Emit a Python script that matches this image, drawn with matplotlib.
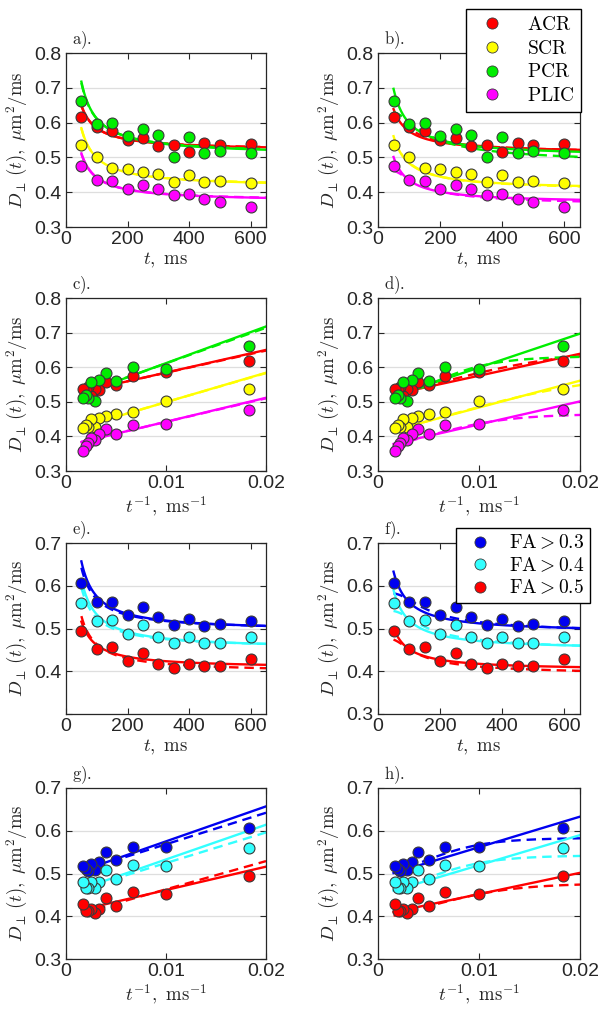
import matplotlib
matplotlib.use("Agg")
import matplotlib.pyplot as plt
from matplotlib.lines import Line2D
import numpy as np

plt.rcParams["font.family"] = ["Liberation Sans", "DejaVu Sans"]
plt.rcParams["mathtext.fontset"] = "cm"

# diffusion times and inverse times
t_ms = [50, 100, 150, 200, 250, 300, 350, 400, 450, 500, 600]
inv_t = [0.0183, 0.01, 0.00667, 0.005, 0.004, 0.00333, 0.00286, 0.0025, 0.00222, 0.002, 0.00167]

# regions (a-d)
region_names = ["ACR", "SCR", "PCR", "PLIC"]
region_colors = ["#ff0000", "#ffff00", "#00ee00", "#ff00ff"]
acr = [0.617, 0.586, 0.576, 0.550, 0.557, 0.534, 0.537, 0.516, 0.542, 0.537, 0.538]
scr = [0.537, 0.502, 0.470, 0.466, 0.459, 0.452, 0.428, 0.449, 0.428, 0.432, 0.425]
pcr = [0.662, 0.596, 0.600, 0.561, 0.582, 0.564, 0.502, 0.558, 0.512, 0.519, 0.512]
plic = [0.476, 0.435, 0.433, 0.408, 0.422, 0.408, 0.391, 0.394, 0.380, 0.372, 0.358]

# FA thresholds (e-h)
fa_names = [r"$\mathrm{FA} > 0.3$", r"$\mathrm{FA} > 0.4$", r"$\mathrm{FA} > 0.5$"]
fa_colors = ["#0000f0", "#33ffff", "#ff0000"]
fa03 = [0.606, 0.562, 0.563, 0.531, 0.550, 0.527, 0.509, 0.522, 0.507, 0.510, 0.517]
fa04 = [0.560, 0.517, 0.520, 0.488, 0.508, 0.481, 0.467, 0.481, 0.467, 0.466, 0.480]
fa05 = [0.495, 0.451, 0.456, 0.423, 0.443, 0.418, 0.408, 0.418, 0.412, 0.412, 0.429]

# fit parameters, linear model D = Dinf + A/t  (Dinf, A)
reg_left_solid = [(0.519, 6.55), (0.414, 8.5), (0.5057, 10.6), (0.373, 6.93)]
reg_left_dash = [(0.520, 6.4), (0.415, 8.4), (0.508, 10.3), (0.374, 6.8)]
reg_right_solid = [(0.512, 6.34), (0.406, 7.75), (0.501, 9.8), (0.368, 6.66)]
fa_left_solid = [(0.4934, 8.18), (0.4515, 8.13), (0.4066, 5.47)]
fa_left_dash = [(0.4947, 7.37), (0.453, 7.15), (0.397, 6.6)]
fa_right_solid = [(0.490, 7.15), (0.449, 7.04), (0.402, 4.98)]
# saturating model (Dinf, A, Dmax)
reg_right_dash = [(0.510, 7.5, 0.65), (0.404, 8.2, 0.585), (0.48, 14.0, 0.633), (0.361, 8.2, 0.466)]
fa_right_dash = [(0.486, 9.5, 0.584), (0.446, 9.0, 0.543), (0.391, 6.5, 0.478)]

region_data = [acr, scr, pcr, plic]
fa_data = [fa03, fa04, fa05]

txt = "#262626"


def lin(x, p):
    return p[0] + p[1] * x


def sat(x, p):
    xs = (p[2] - p[0]) / p[1]
    return p[0] + p[1] * x / (1 + (x / xs) ** 4) ** 0.25


def rect(l, t, r, b):
    return [l / 606, 1 - b / 1014, (r - l) / 606, (b - t) / 1014]


fig = plt.figure(figsize=(6.06, 10.14), dpi=100)

cols = [(66, 266), (378, 580)]
rows = [(53, 227), (298, 471), (543, 714), (788, 959)]
tags = ["a", "b", "c", "d", "e", "f", "g", "h"]

axes = []
for i, (top, bot) in enumerate(rows):
    for j, (l, r) in enumerate(cols):
        axes.append(fig.add_axes(rect(l, top, r, bot)))

t_fine = np.linspace(50, 650, 300)
x_fine = np.linspace(1 / 650, 0.02, 300)

for k, ax in enumerate(axes):
    row, col = k // 2, k % 2
    time_axis = row in (0, 2)
    if row < 2:
        data, colors, solid = region_data, region_colors, [reg_left_solid, reg_right_solid][col]
        dashp = [reg_left_dash, reg_right_dash][col]
    else:
        data, colors, solid = fa_data, fa_colors, [fa_left_solid, fa_right_solid][col]
        dashp = [fa_left_dash, fa_right_dash][col]
    dfun = lin if col == 0 else sat
    xs = t_ms if time_axis else inv_t
    for d, c, ps, pd in zip(data, colors, solid, dashp):
        if time_axis:
            ax.plot(t_fine, lin(1 / t_fine, ps), color=c, lw=1.7, zorder=2)
            ax.plot(t_fine, dfun(1 / t_fine, pd), color=c, lw=1.7, ls=(0, (4, 2.5)), zorder=2)
        else:
            ax.plot(x_fine, lin(x_fine, ps), color=c, lw=1.7, zorder=2)
            ax.plot(x_fine, dfun(x_fine, pd), color=c, lw=1.7, ls=(0, (4, 2.5)), zorder=2)
        ax.scatter(xs, d, s=62, color=c, edgecolors="#3a3a3a", linewidths=0.8, zorder=3)

    if time_axis:
        ax.set_xlim(0, 650)
        ax.set_xticks([0, 200, 400, 600])
        ax.set_xticklabels(["0", "200", "400", "600"])
        ax.set_xlabel(r"$t,\ \mathrm{ms}$", fontsize=13.5, color=txt, labelpad=2)
    else:
        ax.set_xlim(0, 0.02)
        ax.set_xticks([0, 0.01, 0.02])
        ax.set_xticklabels(["0", "0.01", "0.02"])
        ax.set_xlabel(r"$t^{-1},\ \mathrm{ms}^{-1}$", fontsize=13.5, color=txt, labelpad=2)

    if row < 2:
        ax.set_ylim(0.3, 0.8)
        ax.set_yticks([0.3, 0.4, 0.5, 0.6, 0.7, 0.8])
        ax.set_yticklabels(["0.3", "0.4", "0.5", "0.6", "0.7", "0.8"])
    else:
        ax.set_ylim(0.3, 0.7)
        ax.set_yticks([0.3, 0.4, 0.5, 0.6, 0.7])
        labs = ["0.3", "0.4", "0.5", "0.6", "0.7"]
        if k == 4:
            labs[0] = ""
        ax.set_yticklabels(labs)
    ax.set_ylabel(r"$D_{\perp}\,(t),\ \mu\mathrm{m}^2/\mathrm{ms}$", fontsize=13.5, color=txt, labelpad=3)

    ax.yaxis.grid(True, color="#dedede", lw=0.9)
    ax.set_axisbelow(True)
    ax.tick_params(direction="in", top=True, right=True, length=4, width=0.8,
                   color=txt, labelcolor=txt, labelsize=14, pad=3)
    for s in ax.spines.values():
        s.set_color(txt)
        s.set_linewidth(0.9)
    ax.text(0.03, 1.012, r"$\mathrm{" + tags[k] + ").}$", transform=ax.transAxes,
            fontsize=12, color=txt, va="bottom", ha="left")

# legends
reg_handles = [Line2D([], [], ls="none", marker="o", markersize=8, color=c,
                      markeredgecolor="#3a3a3a", markeredgewidth=0.6) for c in region_colors]
leg = axes[1].legend(reg_handles, [r"$\mathrm{" + n + "}$" for n in region_names],
                     loc="upper right", bbox_to_anchor=(581 / 606, 1 - 9 / 1014),
                     bbox_transform=fig.transFigure, fontsize=14, frameon=True,
                     fancybox=False, edgecolor="black", framealpha=1, borderpad=0.35,
                     labelspacing=0.3, handlelength=2.0, handletextpad=0.8, borderaxespad=0)
leg.get_frame().set_linewidth(1.0)

fa_handles = [Line2D([], [], ls="none", marker="o", markersize=8, color=c,
                     markeredgecolor="#3a3a3a", markeredgewidth=0.6) for c in fa_colors]
leg2 = axes[5].legend(fa_handles, fa_names,
                      loc="upper right", bbox_to_anchor=(590 / 606, 1 - 528 / 1014),
                      bbox_transform=fig.transFigure, fontsize=14, frameon=True,
                      fancybox=False, edgecolor="black", framealpha=1, borderpad=0.3,
                      labelspacing=0.2, handlelength=1.8, handletextpad=0.6, borderaxespad=0)
leg2.get_frame().set_linewidth(1.0)

fig.savefig("out.png", dpi=100)
